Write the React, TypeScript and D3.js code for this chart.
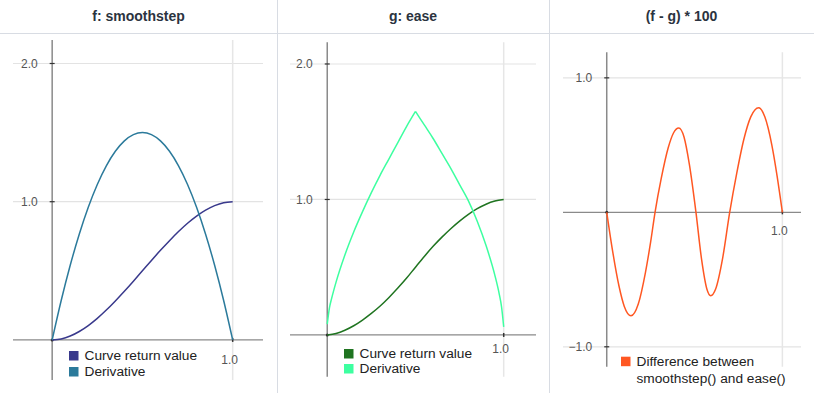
import * as d3 from "d3"

// sample positions (0..1) used for f, f' and g
const xs = [0, 0.05, 0.1, 0.15, 0.2, 0.25, 0.3, 0.35, 0.4, 0.45, 0.5, 0.55, 0.6, 0.65, 0.7, 0.75, 0.8, 0.85, 0.9, 0.95, 1]

const smoothstepValues = [0, 0.007, 0.028, 0.061, 0.104, 0.156, 0.216, 0.282, 0.352, 0.425, 0.5, 0.575, 0.648, 0.718, 0.784, 0.844, 0.896, 0.939, 0.972, 0.993, 1]
const smoothstepDerivative = [0, 0.285, 0.54, 0.765, 0.96, 1.125, 1.26, 1.365, 1.44, 1.485, 1.5, 1.485, 1.44, 1.365, 1.26, 1.125, 0.96, 0.765, 0.54, 0.285, 0]

const easeValues = [0, 0.011, 0.035, 0.068, 0.11, 0.159, 0.214, 0.277, 0.346, 0.42, 0.5, 0.579, 0.654, 0.722, 0.784, 0.84, 0.89, 0.932, 0.965, 0.988, 1]
const easeDerivX = [0, 0.0125, 0.025, 0.05, 0.1, 0.15, 0.2, 0.25, 0.3, 0.35, 0.4, 0.45, 0.5, 0.55, 0.6, 0.65, 0.7, 0.75, 0.8, 0.85, 0.9, 0.95, 0.975, 0.9875, 1]
const easeDerivValues = [0.08, 0.2, 0.27, 0.39, 0.59, 0.76, 0.91, 1.05, 1.18, 1.3, 1.42, 1.54, 1.65, 1.55, 1.45, 1.34, 1.23, 1.11, 0.99, 0.84, 0.66, 0.44, 0.3, 0.21, 0.06]

const diffX = [0, 0.03, 0.07, 0.1, 0.138, 0.18, 0.22, 0.25, 0.275, 0.31, 0.35, 0.38, 0.41, 0.44, 0.47, 0.508, 0.54, 0.57, 0.592, 0.62, 0.66, 0.7, 0.74, 0.78, 0.82, 0.865, 0.9, 0.94, 0.97, 1]
const diffValues = [0, -0.26, -0.55, -0.7, -0.77, -0.68, -0.45, -0.22, 0, 0.25, 0.48, 0.59, 0.627, 0.56, 0.36, 0, -0.35, -0.57, -0.62, -0.57, -0.34, 0, 0.29, 0.54, 0.71, 0.778, 0.71, 0.5, 0.27, 0]

const titles = ["f: smoothstep", "g: ease", "(f - g) * 100"]
const legendCurve = "Curve return value"
const legendDeriv = "Derivative"
const legendDiff = ["Difference between", "smoothstep() and ease()"]

const FONT = "'Liberation Sans', Arial, Helvetica, sans-serif"

type Series = { x: number[]; y: number[]; color: string; splitAtPeak?: boolean }

interface PanelProps {
  title: string
  cellX: number
  cellW: number
  xDomain: [number, number]
  xRange: [number, number]
  yDomain: [number, number]
  yRange: [number, number]
  yTicks: number[]
  xLabelDy: number
  series: Series[]
  legend: { x: number; y: number; step: number; items: { label: string; color: string | null }[] }
}

function Panel({ title, cellX, cellW, xDomain, xRange, yDomain, yRange, yTicks, xLabelDy, series, legend }: PanelProps) {
  const x = d3.scaleLinear().domain(xDomain).range(xRange)
  const y = d3.scaleLinear().domain(yDomain).range(yRange)
  const fmt = d3.format(".1f")

  const line = d3
    .line<[number, number]>()
    .x((d) => x(d[0]))
    .y((d) => y(d[1]))
    .curve(d3.curveMonotoneX)

  const pathFor = (s: Series) => {
    const pts = s.x.map((v, i) => [v, s.y[i]] as [number, number])
    if (!s.splitAtPeak) return line(pts) || ""
    // keep the sharp corner at the peak
    const peak = d3.maxIndex(s.y)
    return (line(pts.slice(0, peak + 1)) || "") + (line(pts.slice(peak)) || "")
  }

  return (
    <g>
      <text
        x={cellX + cellW / 2}
        y={20.5}
        textAnchor="middle"
        fontFamily={FONT}
        fontWeight="bold"
        fontSize={14}
        fill="#2b3340"
      >
        {title}
      </text>

      {/* grid */}
      {yTicks.map((t) => (
        <line key={"g" + t} x1={xRange[0]} x2={xRange[1]} y1={y(t)} y2={y(t)} stroke="#e3e3e3" strokeWidth={1.2} />
      ))}
      <line x1={x(1)} x2={x(1)} y1={yRange[1]} y2={yRange[0]} stroke="#e6e6e6" strokeWidth={1.5} />

      {/* axes */}
      <line x1={xRange[0]} x2={xRange[1]} y1={y(0)} y2={y(0)} stroke="#8a8a8a" strokeWidth={1.3} />
      <line x1={x(0)} x2={x(0)} y1={yRange[1]} y2={yRange[0]} stroke="#8a8a8a" strokeWidth={1.5} />

      {/* ticks */}
      {yTicks.map((t) => (
        <g key={"t" + t}>
          <line x1={x(0) - 2.5} x2={x(0) + 2.5} y1={y(t)} y2={y(t)} stroke="#333" strokeWidth={1.2} />
          <text
            x={x(0) - 14.5}
            y={y(t)}
            dy="0.35em"
            textAnchor="end"
            fontFamily={FONT}
            fontSize={12}
            fill="#555"
          >
            {fmt(t)}
          </text>
        </g>
      ))}
      <line x1={x(1)} x2={x(1)} y1={y(0) - 2} y2={y(0) + 2} stroke="#333" strokeWidth={1.5} />
      <circle cx={x(0)} cy={y(0)} r={1.5} fill="#333" />
      <text x={x(1) - 3} y={y(0) + xLabelDy} textAnchor="middle" fontFamily={FONT} fontSize={12} fill="#555">
        {fmt(1)}
      </text>

      {/* data */}
      {series.map((s, i) => (
        <path key={i} d={pathFor(s)} fill="none" stroke={s.color} strokeWidth={1.5} />
      ))}

      {/* legend */}
      {legend.items.map((it, i) => (
        <g key={"l" + i}>
          {it.color && (
            <rect x={legend.x} y={legend.y + i * legend.step} width={9.5} height={9.5} fill={it.color} />
          )}
          <text
            x={legend.x + 15.5}
            y={legend.y + i * legend.step + 9.3}
            fontFamily={FONT}
            fontSize={13.7}
            fill="#222"
          >
            {it.label}
          </text>
        </g>
      ))}
    </g>
  )
}

export default function App() {
  const c1 = "#39398c"
  const c2 = "#2b7a9b"
  const c3 = "#1f7420"
  const c4 = "#3dffa0"
  const c5 = "#ff5722"

  return (
    <svg
      width={814}
      height={393}
      style={{ position: "absolute", left: 0, top: 0, background: "#fff" }}
    >
      {/* table frame */}
      <line x1={0} x2={814} y1={33.5} y2={33.5} stroke="#d8dce3" />
      <line x1={277.5} x2={277.5} y1={0} y2={393} stroke="#d8dce3" />
      <line x1={549.5} x2={549.5} y1={0} y2={393} stroke="#d8dce3" />

      <Panel
        title={titles[0]}
        cellX={0}
        cellW={277}
        xDomain={[-0.217, 1.168]}
        xRange={[13, 263]}
        yDomain={[-0.29, 2.17]}
        yRange={[380, 40]}
        yTicks={[1, 2]}
        xLabelDy={24}
        series={[
          { x: xs, y: smoothstepValues, color: c1 },
          { x: xs, y: smoothstepDerivative, color: c2 },
        ]}
        legend={{
          x: 69,
          y: 351,
          step: 16,
          items: [
            { label: legendCurve, color: c1 },
            { label: legendDeriv, color: c2 },
          ],
        }}
      />
      <Panel
        title={titles[1]}
        cellX={277}
        cellW={272}
        xDomain={[-0.211, 1.183]}
        xRange={[290, 536]}
        yDomain={[-0.308, 2.16]}
        yRange={[376.7, 42.3]}
        yTicks={[1, 2]}
        xLabelDy={18.5}
        series={[
          { x: xs, y: easeValues, color: c3 },
          { x: easeDerivX, y: easeDerivValues, color: c4, splitAtPeak: true },
        ]}
        legend={{
          x: 344,
          y: 349,
          step: 15,
          items: [
            { label: legendCurve, color: c3 },
            { label: legendDeriv, color: c4 },
          ],
        }}
      />
      <Panel
        title={titles[2]}
        cellX={549}
        cellW={265}
        xDomain={[-0.249, 1.106]}
        xRange={[563, 801]}
        yDomain={[-1.148, 1.19]}
        yRange={[366.7, 52.3]}
        yTicks={[-1, 1]}
        xLabelDy={22.7}
        series={[{ x: diffX, y: diffValues, color: c5 }]}
        legend={{
          x: 621,
          y: 356.7,
          step: 16.5,
          items: [
            { label: legendDiff[0], color: c5 },
            { label: legendDiff[1], color: null },
          ],
        }}
      />
    </svg>
  )
}
